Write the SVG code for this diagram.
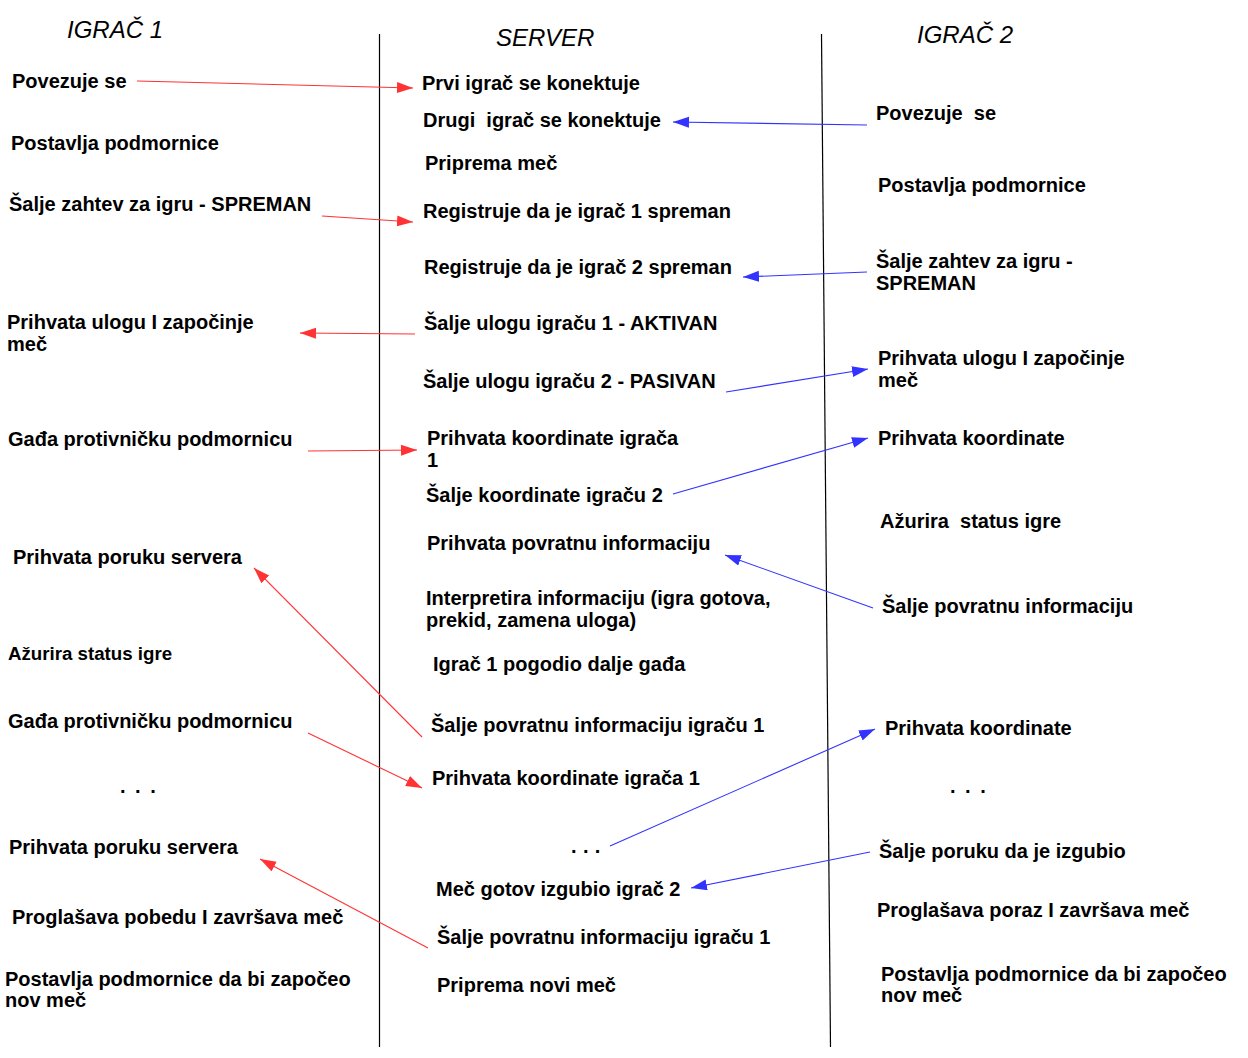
<svg xmlns="http://www.w3.org/2000/svg" width="1248" height="1058" viewBox="0 0 1248 1058">
<style>
text{font-family:"Liberation Sans",Arial,sans-serif;fill:#000}
.h{font-size:24px;font-style:italic}
.t{font-size:20px;font-weight:bold}
.s{font-size:18.7px;font-weight:bold}
.lane{stroke:#000;stroke-width:1.2;fill:none}
.r{stroke:#ff3333;stroke-width:1.1;fill:none;marker-end:url(#ar)}
.b{stroke:#3333ff;stroke-width:1.1;fill:none;marker-end:url(#ab)}
</style>
<defs>
<marker id="ar" markerUnits="userSpaceOnUse" markerWidth="17" markerHeight="12" refX="16" refY="5.5" orient="auto"><path d="M0,0 L16,5.5 L0,11 z" fill="#ff3333"/></marker>
<marker id="ab" markerUnits="userSpaceOnUse" markerWidth="17" markerHeight="12" refX="16" refY="5.5" orient="auto"><path d="M0,0 L16,5.5 L0,11 z" fill="#3333ff"/></marker>
</defs>
<rect width="1248" height="1058" fill="#fff"/>
<g id="lanes">
<line class="lane" x1="379.5" y1="34" x2="379.5" y2="1047"/>
<line class="lane" x1="821.5" y1="34" x2="830.5" y2="1047"/>
</g>
<g id="headers">
<text id="h1" class="h" x="67" y="38">IGRAČ 1</text>
<text id="h2" class="h" x="496" y="46">SERVER</text>
<text id="h3" class="h" x="917" y="43">IGRAČ 2</text>
</g>
<g id="player1">
<g id="p1_1"><text class="t" x="12" y="88">Povezuje se</text></g>
<g id="p1_2"><text class="t" x="11" y="150">Postavlja podmornice</text></g>
<g id="p1_3"><text class="t" x="9" y="211">Šalje zahtev za igru - SPREMAN</text></g>
<g id="p1_4"><text class="t" x="7" y="329">Prihvata ulogu I započinje</text><text class="t" x="7" y="351">meč</text></g>
<g id="p1_5"><text class="t" x="8" y="446">Gađa protivničku podmornicu</text></g>
<g id="p1_6"><text class="t" x="13" y="564">Prihvata poruku servera</text></g>
<g id="p1_7"><text class="s" x="8" y="660">Ažurira status igre</text></g>
<g id="p1_8"><text class="t" x="8" y="728">Gađa protivničku podmornicu</text></g>
<g id="p1_9"><text class="t" x="120" y="793" style="letter-spacing:2px">. . .</text></g>
<g id="p1_10"><text class="t" x="9" y="854">Prihvata poruku servera</text></g>
<g id="p1_11"><text class="t" x="12" y="924">Proglašava pobedu I završava meč</text></g>
<g id="p1_12"><text class="t" x="5" y="986">Postavlja podmornice da bi započeo</text><text class="t" x="5" y="1007">nov meč</text></g>
</g>
<g id="server">
<g id="s1"><text class="t" x="422" y="90">Prvi igrač se konektuje</text></g>
<g id="s2"><text class="t" x="423" y="127" xml:space="preserve">Drugi  igrač se konektuje</text></g>
<g id="s3"><text class="t" x="425" y="170">Priprema meč</text></g>
<g id="s4"><text class="t" x="423" y="218">Registruje da je igrač 1 spreman</text></g>
<g id="s5"><text class="t" x="424" y="274">Registruje da je igrač 2 spreman</text></g>
<g id="s6"><text class="t" x="424" y="330">Šalje ulogu igraču 1 - AKTIVAN</text></g>
<g id="s7"><text class="t" x="423" y="388">Šalje ulogu igraču 2 - PASIVAN</text></g>
<g id="s8"><text class="t" x="427" y="445">Prihvata koordinate igrača</text><text class="t" x="427" y="467">1</text></g>
<g id="s9"><text class="t" x="426" y="502">Šalje koordinate igraču 2</text></g>
<g id="s10"><text class="t" x="427" y="550">Prihvata povratnu informaciju</text></g>
<g id="s11"><text class="t" x="426" y="605">Interpretira informaciju (igra gotova,</text><text class="t" x="426" y="627">prekid, zamena uloga)</text></g>
<g id="s12"><text class="t" x="433" y="671">Igrač 1 pogodio dalje gađa</text></g>
<g id="s13"><text class="t" x="431" y="732">Šalje povratnu informaciju igraču 1</text></g>
<g id="s14"><text class="t" x="432" y="785">Prihvata koordinate igrača 1</text></g>
<g id="s15"><text class="t" x="571" y="853" style="letter-spacing:0.4px">. . .</text></g>
<g id="s16"><text class="t" x="436" y="896">Meč gotov izgubio igrač 2</text></g>
<g id="s17"><text class="t" x="437" y="944">Šalje povratnu informaciju igraču 1</text></g>
<g id="s18"><text class="t" x="437" y="992">Priprema novi meč</text></g>
</g>
<g id="player2">
<g id="p2_1"><text class="t" x="876" y="120" xml:space="preserve">Povezuje  se</text></g>
<g id="p2_2"><text class="t" x="878" y="192">Postavlja podmornice</text></g>
<g id="p2_3"><text class="t" x="876" y="268">Šalje zahtev za igru -</text><text class="t" x="876" y="290">SPREMAN</text></g>
<g id="p2_4"><text class="t" x="878" y="365">Prihvata ulogu I započinje</text><text class="t" x="878" y="387">meč</text></g>
<g id="p2_5"><text class="t" x="878" y="445">Prihvata koordinate</text></g>
<g id="p2_6"><text class="t" x="880" y="528" xml:space="preserve">Ažurira  status igre</text></g>
<g id="p2_7"><text class="t" x="882" y="613">Šalje povratnu informaciju</text></g>
<g id="p2_8"><text class="t" x="885" y="735">Prihvata koordinate</text></g>
<g id="p2_9"><text class="t" x="950" y="793" style="letter-spacing:2px">. . .</text></g>
<g id="p2_10"><text class="t" x="879" y="858">Šalje poruku da je izgubio</text></g>
<g id="p2_11"><text class="t" x="877" y="917">Proglašava poraz I završava meč</text></g>
<g id="p2_12"><text class="t" x="881" y="981">Postavlja podmornice da bi započeo</text><text class="t" x="881" y="1002">nov meč</text></g>
</g>
<g id="connectors">
<line class="r" x1="137" y1="81" x2="413" y2="88"/>
<line class="b" x1="867" y1="125" x2="673" y2="122"/>
<line class="r" x1="322" y1="216" x2="413" y2="222"/>
<line class="b" x1="867" y1="272" x2="743" y2="277"/>
<line class="r" x1="415" y1="334" x2="300" y2="333"/>
<line class="b" x1="726" y1="392" x2="868" y2="369"/>
<line class="r" x1="308" y1="451" x2="417" y2="450"/>
<line class="b" x1="673" y1="494" x2="868" y2="438"/>
<line class="b" x1="873" y1="608" x2="725" y2="555"/>
<line class="r" x1="422" y1="737" x2="254" y2="568"/>
<line class="r" x1="308" y1="733" x2="422" y2="788"/>
<line class="b" x1="610" y1="846" x2="875" y2="729"/>
<line class="b" x1="870" y1="852" x2="691" y2="888"/>
<line class="r" x1="428" y1="948" x2="260" y2="859"/>
</g>
</svg>
